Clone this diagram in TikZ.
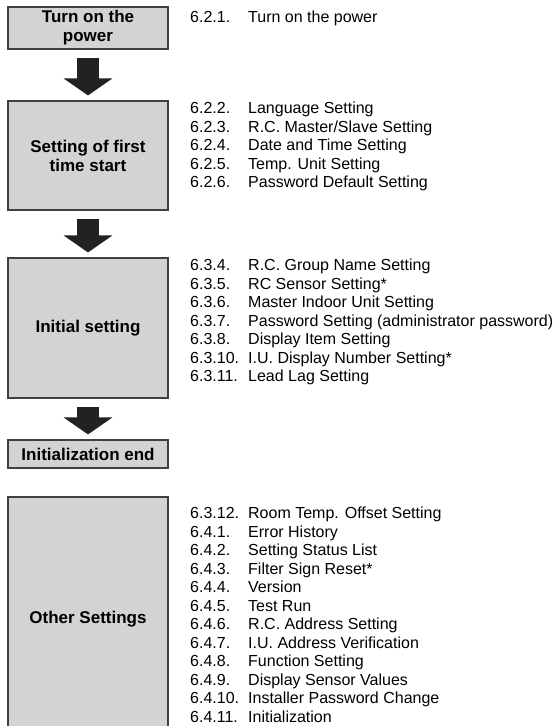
\documentclass[tikz,border=0pt]{standalone}
\usepackage{fontspec}
\setmainfont{Liberation Sans}
\usepackage{tikz}
\usetikzlibrary{arrows.meta,positioning}
\newcommand{\entry}[2]{\makebox[58pt][l]{#1}#2}

\begin{document}
\begin{tikzpicture}[x=1pt, y=-1pt, bigarrow/.style={draw=arrowgray, line width=22pt, -{Triangle[width=48pt,length=17pt]}, shorten <=8pt, shorten >=5pt}]
		\definecolor{boxgray}{RGB}{211,211,211}
		\definecolor{edgegray}{RGB}{64,64,64}
		\definecolor{arrowgray}{RGB}{34,34,34}
		\tikzstyle{stage}=[draw=edgegray, fill=boxgray, line width=1.1pt, minimum width=160pt, inner sep=0pt, align=center, font=\fontsize{17}{19}\selectfont\bfseries]
		\tikzstyle{steps}=[anchor=north west, inner sep=0pt, align=left, font=\fontsize{16}{18.5}\selectfont]
		\useasboundingbox (0,0) rectangle (556,726);
		\clip (0,0) rectangle (556,726);
		\begin{scope}
			\node[stage, minimum height=42pt] (power) at (88,28) {Turn on the\\power};
			\node[stage, minimum height=109pt] (first) at (88,155.5) {Setting of first\\time start};
			\node[stage, minimum height=140pt] (init) at (88,328) {Initial setting};
			\node[stage, minimum height=28pt] (initend) at (88,454) {Initialization end};
			\node[stage, minimum height=244pt] (other) at (88,619) {Other Settings};

			\draw[bigarrow] (power) -- (first); \draw[bigarrow] (first) --
			(init); \draw[bigarrow] (init) -- (initend);

			\node[steps] (powerlist) at (190,11) {\entry{6.2.1.}{Turn on the power}};
			\node[steps] (firstlist) at (190,102) {\entry{6.2.2.}{Language
			Setting}\\ \entry{6.2.3.}{R.C. Master/Slave Setting}\\
			\entry{6.2.4.}{Date and Time Setting}\\ \entry{6.2.5.}{Temp. Unit
			Setting}\\ \entry{6.2.6.}{Password Default Setting}};
			\node[steps] (initlist) at (190,259) {\entry{6.3.4.}{R.C. Group
			Name Setting}\\ \entry{6.3.5.}{RC Sensor Setting*}\\
			\entry{6.3.6.}{Master Indoor Unit Setting}\\
			\entry{6.3.7.}{Password Setting (administrator password)}\\
			\entry{6.3.8.}{Display Item Setting}\\ \entry{6.3.10.}{I.U.
			Display Number Setting*}\\ \entry{6.3.11.}{Lead Lag Setting}};
			\node[steps] (otherlist) at (190,507) {\entry{6.3.12.}{Room Temp.
			Offset Setting}\\ \entry{6.4.1.}{Error History}\\
			\entry{6.4.2.}{Setting Status List}\\ \entry{6.4.3.}{Filter Sign
			Reset*}\\ \entry{6.4.4.}{Version}\\ \entry{6.4.5.}{Test Run}\\
			\entry{6.4.6.}{R.C. Address Setting}\\ \entry{6.4.7.}{I.U. Address
			Verification}\\ \entry{6.4.8.}{Function Setting}\\
			\entry{6.4.9.}{Display Sensor Values}\\ \entry{6.4.10.}{Installer
			Password Change}\\ \entry{6.4.11.}{Initialization}};
		\end{scope}
	\end{tikzpicture}
\end{document}
